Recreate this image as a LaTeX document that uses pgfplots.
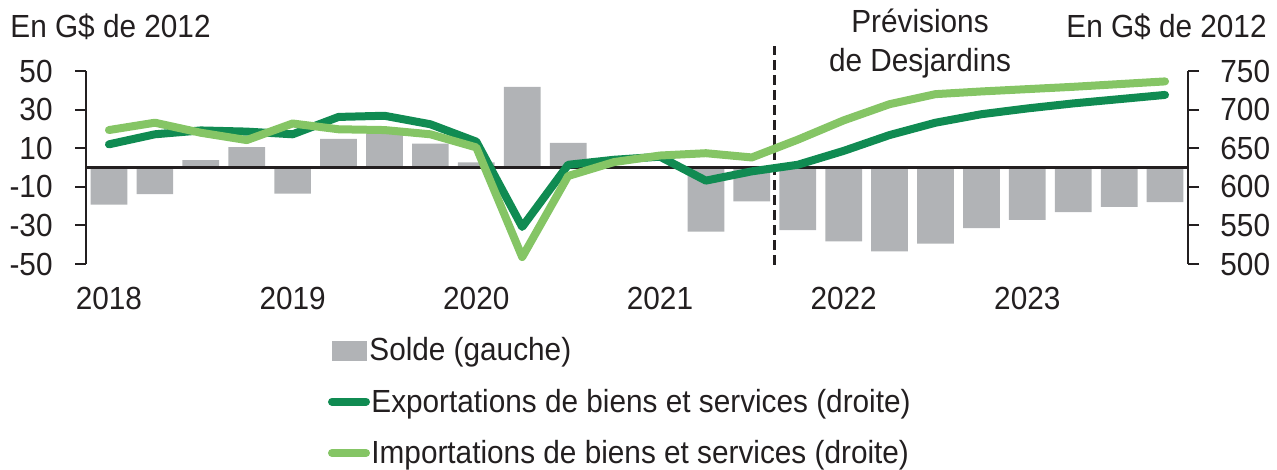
\documentclass[border=0pt]{standalone}
\usepackage{fontspec}
\setmainfont[FakeStretch=0.93]{Liberation Sans}
\usepackage{pgfplots}
\pgfplotsset{compat=1.18}
\definecolor{barGray}{RGB}{177,179,182}
\definecolor{expGreen}{RGB}{16,139,82}
\definecolor{impGreen}{RGB}{133,197,101}
\definecolor{txt}{RGB}{35,31,32}
\begin{document}
\fontsize{16}{19}\selectfont
\begin{tikzpicture}
\useasboundingbox (0,0) rectangle (638.5pt,235pt);
\pgfplotsset{
  common/.style={
    at={(43pt,103pt)}, anchor=south west, scale only axis,
    width=551pt, height=96.5pt, xmin=-0.5, xmax=23.5,
    tick align=outside, major tick length=5.5pt,
    tick label style={font=\fontsize{16}{19}\selectfont, text=txt, inner sep=0pt},
    clip=false,
  }
}
\begin{axis}[common,
  ymin=-50, ymax=50,
  axis y line*=left, axis x line*=bottom,
  x axis line style={draw=none},
  xtick={0,4,8,12,16,20}, xticklabels={2018,2019,2020,2021,2022,2023},
  xtick style={draw=none},
  xticklabel style={anchor=north, yshift=-6pt},
  ytick={-50,-30,-10,10,30,50}, yticklabels={-50,-30,-10,10,30,50},
  yticklabel style={anchor=east, xshift=-11pt},
  y axis line style={line width=1pt, txt}, ytick style={line width=1pt, txt},
]
\addplot[ybar, bar width=0.8, fill=barGray, draw=none] coordinates {
(0,-19.3) (1,-13.8) (2,3.8) (3,10.5) (4,-13.5) (5,14.8) (6,17.5) (7,12.4)
(8,2.6) (9,41.8) (10,12.8) (11,0) (12,0) (13,-33.2) (14,-17.6) (15,-32.5)
(16,-38.3) (17,-43.5) (18,-39.4) (19,-31.4) (20,-27.1) (21,-23.1) (22,-20.4) (23,-18.0)
};
\draw[txt, line width=1.3pt] (axis cs:-0.5,0) -- (axis cs:23.5,0);
\draw[txt, line width=1.5pt, dash pattern=on 5pt off 2.5pt] (axis cs:14.5,-50.5) -- (axis cs:14.5,63);
\end{axis}
\begin{axis}[common,
  ymin=500, ymax=750,
  axis y line*=right, axis x line=none,
  ytick={500,550,600,650,700,750}, yticklabels={500,550,600,650,700,750},
  yticklabel style={anchor=west, xshift=10.5pt},
  y axis line style={line width=1pt, txt}, ytick style={line width=1pt, txt},
]
\addplot[expGreen, line width=4pt, line cap=round, line join=round] coordinates {
(0,655) (1,668) (2,673) (3,671.5) (4,668) (5,690.5) (6,692) (7,681)
(8,658.5) (9,548) (10,628.5) (11,635) (12,639) (13,608) (14,620) (15,628.5)
(16,646.5) (17,667) (18,683) (19,694) (20,701.5) (21,708) (22,713.5) (23,719)
};
\addplot[impGreen, line width=4pt, line cap=round, line join=round] coordinates {
(0,673.5) (1,683) (2,670) (3,660.5) (4,682) (5,674.5) (6,673.5) (7,668)
(8,651) (9,509) (10,614) (11,632) (12,640.5) (13,643.5) (14,638) (15,661)
(16,686) (17,707) (18,720) (19,723.5) (20,726.5) (21,729.5) (22,733) (23,736.5)
};
\end{axis}
% titles
\node[anchor=base west, inner sep=0pt, text=txt] at (5pt,216pt) {En G\$ de 2012};
\node[anchor=base east, inner sep=0pt, text=txt] at (633.5pt,216pt) {En G\$ de 2012};
\node[anchor=base, inner sep=0pt, text=txt] at (460pt,218.5pt) {Prévisions};
\node[anchor=base, inner sep=0pt, text=txt] at (460pt,199.2pt) {de Desjardins};
% legend
\fill[barGray] (165.85pt,54.65pt) rectangle (183.35pt,64.65pt);
\node[anchor=base west, inner sep=0pt, text=txt] at (184.5pt,54.5pt) {Solde (gauche)};
\draw[expGreen, line width=4pt, line cap=round] (166pt,34.15pt) -- (183pt,34.15pt);
\node[anchor=base west, inner sep=0pt, text=txt] at (185.5pt,28.75pt) {Exportations de biens et services (droite)};
\draw[impGreen, line width=4pt, line cap=round] (166pt,8.5pt) -- (183pt,8.5pt);
\node[anchor=base west, inner sep=0pt, text=txt] at (185.5pt,3.25pt) {Importations de biens et services (droite)};
\end{tikzpicture}
\end{document}
